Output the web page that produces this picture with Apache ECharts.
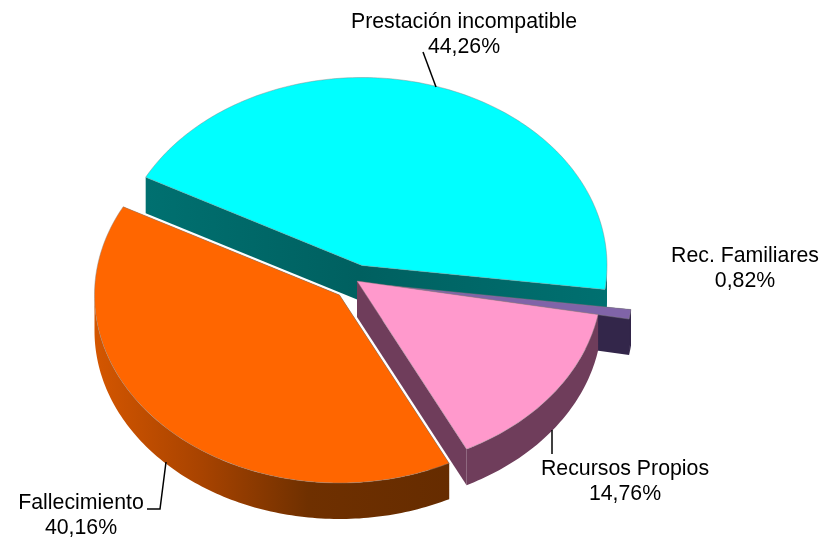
<!DOCTYPE html>
<html>
<head>
<meta charset="utf-8">
<style>html,body{margin:0;padding:0;background:#fff}#c{width:822px;height:539px}</style>
<script src="https://cdn.jsdelivr.net/npm/echarts@6/dist/echarts.min.js"></script>
</head>
<body>
<div id="c"></div>
<script>
// Data, clockwise from the start angle
const categories = ['Prestación incompatible', 'Rec. Familiares', 'Recursos Propios', 'Fallecimiento'];
const values = [44.26, 0.82, 14.76, 40.16];

// Layout and style of the tilted, exploded pie
const startAngle = 152, radiusX = 245, radiusY = 188, depth = 36;
const sliceCentres = [[362, 265.5], [388, 285.5], [357, 281], [339.5, 295]];
const topColors = ['#00FFFF', '#8064A8', '#FF99CC', '#FF6600'];
const wallColors = [
  { type: 'linear', global: true, x: 147, y: 0, x2: 607, y2: 0, colorStops: [
    { offset: 0, color: '#007070' }, { offset: 0.46, color: '#006060' }, { offset: 1, color: '#007070' }] },
  '#33264A', '#6F3D5B',
  { type: 'linear', global: true, x: 95, y: 0, x2: 450, y2: 0, colorStops: [
    { offset: 0, color: '#D45600' }, { offset: 0.3, color: '#A84300' },
    { offset: 0.6, color: '#6F3000' }, { offset: 1, color: '#662C00' }] }
];
const labelPlaces = [[464, 35], [745, 269], [625, 481.5], [81, 516]];
const leaders = [
  [[423, 52], [436, 87]],
  null,
  [[552, 430], [552, 454]],
  [[166, 462], [160, 509], [147, 509]]
];

const total = values.reduce((a, b) => a + b, 0);
const rad = d => d * Math.PI / 180;

function renderSlice(params, api) {
  const i = params.dataIndex;
  const before = values.slice(0, i).reduce((a, b) => a + b, 0);
  const a0 = startAngle - before / total * 360;
  const a1 = a0 - api.value(1) / total * 360;
  const [cx, cy] = sliceCentres[i];
  const pt = (a, d) => [cx + radiusX * Math.cos(rad(a)), cy - radiusY * Math.sin(rad(a)) + (d || 0)];
  const arc = (from, to, d) => {
    const n = Math.max(2, Math.ceil(Math.abs(to - from)));
    return Array.from({ length: n + 1 }, (_, k) => pt(from + (to - from) * k / n, d));
  };
  const children = [];
  const wall = wallColors[i];
  const apex = [cx, cy], apexLow = [cx, cy + depth];
  // straight cut walls
  [a0, a1].forEach(a => {
    children.push({ type: 'polygon', shape: { points: [apex, pt(a), pt(a, depth), apexLow] },
      style: { fill: wall } });
  });
  // curved outer wall: the part of the rim that faces the viewer
  const from = Math.min(a0, 0), to = Math.max(a1, -180);
  if (from > to) {
    children.push({ type: 'polygon',
      shape: { points: arc(from, to, 0).concat(arc(to, from, depth)) },
      style: { fill: wall } });
  }
  // top face
  children.push({ type: 'polygon', shape: { points: [apex].concat(arc(a0, a1)) },
    style: { fill: topColors[i], stroke: 'rgba(130,130,130,0.55)', lineWidth: 0.8 } });
  return { type: 'group', children };
}

const fmt = v => v.toFixed(2).replace('.', ',') + '%';
const graphics = [];
categories.forEach((name, i) => {
  graphics.push({ type: 'text', x: labelPlaces[i][0], y: labelPlaces[i][1],
    style: { text: name + '\n' + fmt(values[i]), align: 'center', verticalAlign: 'middle',
      font: '21.3px "Liberation Sans", Arial, sans-serif', lineHeight: 25, fill: '#000' }, z: 10 });
  if (leaders[i]) {
    graphics.push({ type: 'polyline', shape: { points: leaders[i] },
      style: { stroke: '#000', lineWidth: 1.5, fill: null }, z: 10 });
  }
});

const chart = echarts.init(document.getElementById('c'), null, { renderer: 'canvas' });
chart.setOption({
  animation: false,
  backgroundColor: '#fff',
  graphic: graphics,
  series: [{
    type: 'custom',
    coordinateSystem: 'none',
    renderItem: renderSlice,
    encode: { value: 1, itemName: 0 },
    data: categories.map((n, i) => [n, values[i]])
  }]
});
</script>
</body>
</html>
